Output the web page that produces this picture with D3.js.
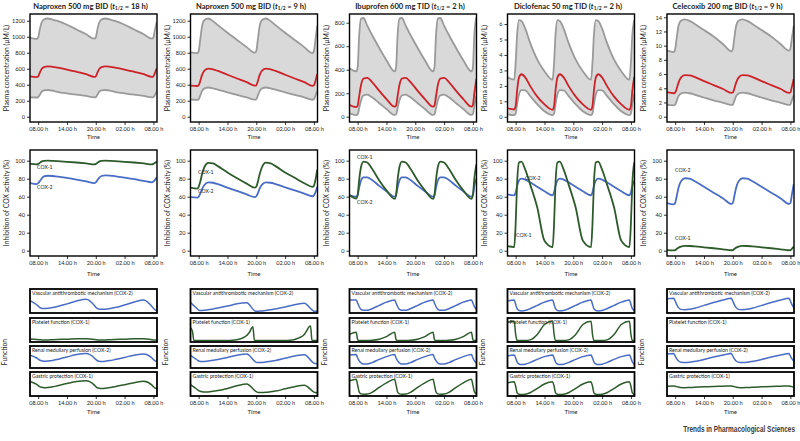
<!DOCTYPE html>
<html><head><meta charset="utf-8">
<script src="https://cdn.jsdelivr.net/npm/d3@7"></script>
<style>
body{margin:0;background:#fff}
svg{display:block}
text{font-family:Lato,"Open Sans",sans-serif;fill:#222}
</style>
</head><body>
<svg id="chart" width="800" height="441"></svg>
<script>
// ---------- shared ticks ----------
const timeTicks = [0, 6, 12, 18, 24];
const timeTickLabels = ["08.00 h", "14.00 h", "20.00 h", "02.00 h", "08.00 h"];
const inhibitionTicks = [0, 20, 40, 60, 80, 100];
const functionNames = ["Vascular antithrombotic mechanism (COX-2)", "Platelet function (COX-1)", "Renal medullary perfusion (COX-2)", "Gastric protection (COX-1)"];
const drugNames = ["Naproxen 500 mg BID", "Naproxen 500 mg BID", "Ibuprofen 600 mg TID", "Diclofenac 50 mg TID", "Celecoxib 200 mg BID"];
const halfLives = ["18 h", "9 h", "2 h", "2 h", "9 h"];

// ---------- time grids (hours after 08.00 h) ----------
const hoursBID = [-1.7,-0.3, 0,0.3,0.7,1.2,2,3,4,6,8,10,11.7, 12,12.3,12.7,13.2,14,15,16,18,20,22,23.7, 24,24.3,24.7];
const hoursTID = [-1.7,-0.3, 0,0.3,0.7,1.2,2,3,4.5,6,7.7, 8,8.3,8.7,9.2,10,11,12.5,14,15.7, 16,16.3,16.7,17.2,18,19,20.5,22,23.7, 24,24.3,24.7];
const nap9PlateletHours = [-1.7,-1.3,-1.0,0,2,4,6,7,8,9,10,10.6,11.0,11.3,11.6,12,14,16,18,19,20,21,22,22.6,23.0,23.3,23.6,24,24.7];

// ---------- Naproxen t1/2 = 18 h ----------
const nap18PlasmaTicks = [0,200,400,600,800,1000,1200];
const nap18High = [985,972, 990,1080,1175,1215,1228,1215,1198,1150,1090,1030,975, 990,1080,1175,1215,1228,1215,1198,1150,1090,1030,975, 990,1080,1185];
const nap18Mean = [505,495, 505,545,595,620,630,624,614,590,562,532,497, 505,545,595,620,630,624,614,590,562,532,497, 505,545,605];
const nap18Low = [242,240, 245,270,310,330,334,325,312,292,275,260,243, 245,270,310,330,334,325,312,292,275,260,243, 245,270,318];
const nap18Cox1 = [96.5,96, 96.5,97.5,99,99.7,100,99.8,99.5,98.8,98,97,96, 96.5,97.5,99,99.7,100,99.8,99.5,98.8,98,97,96, 96.5,97.5,99.2];
const nap18Cox2 = [75,74, 75,77,80,82.5,83.3,83,82.3,80.8,79,77,75, 76,78,81,83,83.7,83.5,82.8,81.3,79.5,77.5,76, 76.8,78.5,81.5];
const nap18Vascular = [0.52,0.33, 0.27,0.21,0.17,0.16,0.17,0.2,0.25,0.37,0.5,0.58,0.3, 0.22,0.16,0.13,0.12,0.13,0.16,0.2,0.32,0.45,0.55,0.25, 0.17,0.1,0.05];
const nap18Platelet = [0.09,0.07, 0.06,0.06,0.05,0.05,0.05,0.06,0.07,0.08,0.1,0.1,0.07, 0.06,0.05,0.05,0.05,0.05,0.06,0.07,0.08,0.1,0.1,0.06, 0.05,0.04,0.04];
const nap18Renal = [0.59,0.45, 0.4,0.35,0.31,0.29,0.3,0.33,0.38,0.5,0.62,0.67,0.45, 0.38,0.32,0.29,0.28,0.29,0.32,0.37,0.48,0.59,0.65,0.45, 0.38,0.32,0.27];
const nap18Gastric = [0.62,0.48, 0.43,0.38,0.35,0.33,0.34,0.37,0.42,0.52,0.61,0.65,0.45, 0.38,0.33,0.31,0.3,0.31,0.34,0.38,0.47,0.56,0.62,0.45, 0.38,0.32,0.28];

// ---------- Naproxen t1/2 = 9 h ----------
const nap9PlasmaTicks = [0,200,400,600,800,1000,1200];
const nap9High = [805,795, 820,950,1130,1210,1228,1195,1145,1050,960,870,800, 820,950,1130,1210,1228,1195,1145,1050,960,870,795, 820,950,1140];
const nap9Mean = [388,384, 392,440,520,575,600,592,572,525,478,432,388, 392,440,520,575,600,592,572,525,478,432,386, 392,440,535];
const nap9Low = [215,210, 218,260,320,355,365,355,340,305,272,243,213, 218,260,320,355,365,355,340,305,272,243,212, 218,260,325];
const nap9Cox1 = [70,69, 71,76,85,93,97.5,97,94,87,80.5,74.5,70, 71,76,85,93,97.8,97,94,87,81,75,71, 72,78,90];
const nap9Cox2 = [59.5,59, 60,63,68.5,73,76,75.5,74,70,66.5,62.5,59.5, 60.5,63.5,69,73.5,76,75.5,74,70.5,67,63.5,60.5, 61.5,64.5,71];
const nap9Vascular = [0.43,0.15, 0.09,0.07,0.07,0.08,0.1,0.14,0.18,0.27,0.37,0.42,0.05, 0.03,0.03,0.04,0.05,0.07,0.1,0.14,0.23,0.33,0.4,0.08, 0.04,0.03,0.03];
const nap9Platelet = [0.6,0.45,0.03,0.02,0.02,0.02,0.02,0.03,0.06,0.12,0.25,0.4,0.58,0.65,0.03,0.02,0.02,0.02,0.02,0.03,0.07,0.15,0.3,0.5,0.65,0.68,0.03,0.02,0.02];
const nap9Renal = [0.58,0.35, 0.3,0.28,0.27,0.28,0.3,0.34,0.38,0.48,0.59,0.65,0.28, 0.23,0.22,0.22,0.23,0.25,0.29,0.33,0.44,0.55,0.61,0.25, 0.19,0.17,0.16];
const nap9Gastric = [0.47,0.25, 0.2,0.17,0.15,0.14,0.14,0.17,0.2,0.3,0.42,0.5,0.2, 0.15,0.12,0.11,0.11,0.12,0.15,0.18,0.28,0.38,0.44,0.18, 0.13,0.11,0.1];

// ---------- Ibuprofen t1/2 = 2 h ----------
const ibuPlasmaTicks = [0,200,400,600,800];
const ibuHigh = [412,385, 420,680,835,840,775,695,585,480,385, 420,680,835,840,775,695,585,480,385, 420,680,835,840,775,695,585,480,385, 420,700,845];
const ibuMean = [100,82, 95,170,270,325,330,295,220,150,85, 95,170,270,325,330,295,220,150,85, 95,170,270,325,330,295,220,150,85, 100,200,320];
const ibuLow = [28,14, 20,70,140,180,188,165,115,65,15, 20,70,140,180,188,165,115,65,15, 20,70,140,180,188,165,115,65,15, 25,90,180];
const ibuCox1 = [62,58, 62,78,93,99,98,91,78,67,57.5, 62,78,93,99,98,91,78,67,57.5, 62,78,93,99,98,91,78,67,57.5, 62,80,96];
const ibuCox2 = [61.5,60, 62,70,78,81.5,81.5,78.5,72,66,60, 62,70,78,81.5,81.5,78.5,72,66,60, 62,70,78,81.5,81.5,78.5,72,66,60, 62,72,80];
const ibuVascular = [0.55,0.55, 0.4,0.25,0.12,0.08,0.08,0.15,0.3,0.45,0.55, 0.4,0.25,0.12,0.08,0.08,0.15,0.3,0.45,0.55, 0.4,0.25,0.12,0.08,0.08,0.15,0.3,0.45,0.55, 0.4,0.25,0.12];
const ibuPlatelet = [0.3,0.4, 0.06,0.02,0.02,0.02,0.02,0.03,0.08,0.2,0.4, 0.06,0.02,0.02,0.02,0.02,0.03,0.08,0.2,0.4, 0.06,0.02,0.02,0.02,0.02,0.03,0.08,0.2,0.4, 0.06,0.02,0.02];
const ibuRenal = [0.6,0.62, 0.45,0.32,0.2,0.15,0.15,0.22,0.38,0.52,0.62, 0.45,0.32,0.2,0.15,0.15,0.22,0.38,0.52,0.62, 0.45,0.32,0.2,0.15,0.15,0.22,0.38,0.52,0.62, 0.45,0.32,0.2];
const ibuGastric = [0.65,0.72, 0.45,0.15,0.05,0.03,0.04,0.12,0.35,0.55,0.72, 0.45,0.15,0.05,0.03,0.04,0.12,0.35,0.55,0.72, 0.45,0.15,0.05,0.03,0.04,0.12,0.35,0.55,0.72, 0.45,0.15,0.05];

// ---------- Diclofenac t1/2 = 2 h ----------
const dicPlasmaTicks = [0,1,2,3,4,5,6];
const dicHigh = [2.55,2.4, 3.5,5.3,6.25,6.2,5.7,4.8,3.7,2.95,2.4, 3.5,5.3,6.25,6.2,5.7,4.8,3.7,2.95,2.4, 3.5,5.3,6.25,6.2,5.7,4.8,3.7,2.95,2.4, 3.5,5.3,6.25];
const dicMean = [0.55,0.47, 0.7,1.7,2.55,2.75,2.55,2.0,1.3,0.8,0.45, 0.7,1.7,2.55,2.75,2.55,2.0,1.3,0.8,0.45, 0.7,1.7,2.55,2.75,2.55,2.0,1.3,0.8,0.45, 0.7,1.7,2.6];
const dicLow = [0.15,0.1, 0.2,0.8,1.45,1.72,1.7,1.35,0.8,0.35,0.1, 0.2,0.8,1.45,1.72,1.7,1.35,0.8,0.35,0.1, 0.2,0.8,1.45,1.72,1.7,1.35,0.8,0.35,0.1, 0.2,0.8,1.5];
const dicCox1 = [5,4, 30,75,98,99,90,74,48,11,4, 30,75,98,99,90,74,48,11,4, 30,75,98,99,90,74,48,11,4, 30,75,98];
const dicCox2 = [62.5,61.5, 65,72,78,80,79,76,71,66,61.5, 65,72,78,80,79,76,71,66,61.5, 65,72,78,80,79,76,71,66,61.5, 65,72,78];
const dicVascular = [0.5,0.55, 0.35,0.15,0.07,0.05,0.07,0.15,0.3,0.45,0.55, 0.35,0.15,0.07,0.05,0.07,0.15,0.3,0.45,0.55, 0.35,0.15,0.07,0.05,0.07,0.15,0.3,0.45,0.55, 0.35,0.15,0.07];
const dicPlatelet = [0.85,0.9, 0.3,0.02,0.02,0.02,0.02,0.05,0.3,0.75,0.9, 0.3,0.02,0.02,0.02,0.02,0.05,0.3,0.75,0.9, 0.3,0.02,0.02,0.02,0.02,0.05,0.3,0.75,0.9, 0.3,0.02,0.02];
const dicRenal = [0.56,0.6, 0.45,0.25,0.15,0.12,0.14,0.22,0.38,0.52,0.6, 0.45,0.25,0.15,0.12,0.14,0.22,0.38,0.52,0.6, 0.45,0.25,0.15,0.12,0.14,0.22,0.38,0.52,0.6, 0.45,0.25,0.15];
const dicGastric = [0.55,0.6, 0.4,0.1,0.03,0.02,0.03,0.1,0.3,0.5,0.6, 0.4,0.1,0.03,0.02,0.03,0.1,0.3,0.5,0.6, 0.4,0.1,0.03,0.02,0.03,0.1,0.3,0.5,0.6, 0.4,0.1,0.03];

// ---------- Celecoxib t1/2 = 9 h ----------
const celPlasmaTicks = [0,2,4,6,8,10,12,14];
const celHigh = [9.3,9.1, 9.5,11,12.8,13.5,13.7,13.5,13.1,12.2,11.3,10.2,9.2, 9.5,11,12.8,13.5,13.7,13.5,13.1,12.2,11.3,10.2,9.3, 9.6,11,12.8];
const celMean = [3.45,3.3, 3.4,3.9,4.8,5.5,5.85,5.82,5.6,5.0,4.45,3.9,3.35, 3.4,3.9,4.8,5.5,5.85,5.82,5.6,5.0,4.45,3.9,3.35, 3.4,4.2,5.3];
const celLow = [1.65,1.6, 1.7,2.2,2.9,3.25,3.38,3.3,3.12,2.7,2.3,1.95,1.65, 1.7,2.2,2.9,3.25,3.38,3.3,3.12,2.7,2.3,1.95,1.65, 1.7,2.3,3.0];
const celCox1 = [0.6,0.3, 0.6,1.8,3.4,4.6,5.3,5.2,4.8,3.8,2.7,1.5,0.5, 0.6,1.8,3.4,4.6,5.3,5.2,4.8,3.8,2.7,1.5,0.5, 0.6,2,4.5];
const celCox2 = [53,51.5, 53,60,70,77,80.5,80,77.5,71,64.5,58,52, 53,60,70,77,80.5,80,77.5,71,64.5,58,52, 53,62,74];
const celVascular = [0.6,0.62, 0.5,0.35,0.2,0.12,0.1,0.12,0.17,0.3,0.43,0.55,0.62, 0.5,0.35,0.2,0.12,0.1,0.12,0.17,0.3,0.43,0.55,0.62, 0.5,0.35,0.2];
const celPlatelet = [1.04,1.04, 1.04,1.04,1.04,1.04,1.04,1.04,1.04,1.04,1.04,1.04,1.04, 1.04,1.04,1.04,1.04,1.04,1.04,1.04,1.04,1.04,1.04,1.04, 1.04,1.04,1.04];
const celRenal = [0.65,0.67, 0.55,0.42,0.3,0.24,0.22,0.24,0.28,0.38,0.5,0.6,0.67, 0.55,0.42,0.3,0.24,0.22,0.24,0.28,0.38,0.5,0.6,0.67, 0.55,0.42,0.3];
const celGastric = [0.4,0.41, 0.4,0.38,0.36,0.34,0.33,0.34,0.35,0.37,0.39,0.4,0.41, 0.4,0.38,0.36,0.34,0.33,0.34,0.35,0.37,0.39,0.4,0.41, 0.4,0.38,0.36];

// ---------- build column table ----------
const columns = [
  {hours: hoursBID, ticks: nap18PlasmaTicks, yDom: [-66, 1284], high: nap18High, mean: nap18Mean, low: nap18Low, cox1: nap18Cox1, cox2: nap18Cox2,
   fn: [nap18Vascular, nap18Platelet, nap18Renal, nap18Gastric], fnHours: [hoursBID, hoursBID, hoursBID, hoursBID],
   lab1: [37, 169], lab2: [37, 189]},
  {hours: hoursBID, ticks: nap9PlasmaTicks, yDom: [-66, 1284], high: nap9High, mean: nap9Mean, low: nap9Low, cox1: nap9Cox1, cox2: nap9Cox2,
   fn: [nap9Vascular, nap9Platelet, nap9Renal, nap9Gastric], fnHours: [hoursBID, nap9PlateletHours, hoursBID, hoursBID],
   lab1: [198, 174], lab2: [198, 193]},
  {hours: hoursTID, ticks: ibuPlasmaTicks, yDom: [-45, 874], high: ibuHigh, mean: ibuMean, low: ibuLow, cox1: ibuCox1, cox2: ibuCox2,
   fn: [ibuVascular, ibuPlatelet, ibuRenal, ibuGastric], fnHours: [hoursTID, hoursTID, hoursTID, hoursTID],
   lab1: [357, 159], lab2: [357, 204]},
  {hours: hoursTID, ticks: dicPlasmaTicks, yDom: [-0.34, 6.65], high: dicHigh, mean: dicMean, low: dicLow, cox1: dicCox1, cox2: dicCox2,
   fn: [dicVascular, dicPlatelet, dicRenal, dicGastric], fnHours: [hoursTID, hoursTID, hoursTID, hoursTID],
   lab1: [516, 237], lab2: [525, 180]},
  {hours: hoursBID, ticks: celPlasmaTicks, yDom: [-0.75, 14.46], high: celHigh, mean: celMean, low: celLow, cox1: celCox1, cox2: celCox2,
   fn: [celVascular, celPlatelet, celRenal, celGastric], fnHours: [hoursBID, hoursBID, hoursBID, hoursBID],
   lab1: [675, 240], lab2: [675, 172]}
];

// ---------- layout ----------
const svg = d3.select("#chart");
const colLefts = [30, 190.5, 349.5, 507.5, 667];
const plotW = 127;
const xDomain = [-1.7, 24.75];
const row1 = [14, 122];
const row2 = [150, 256];
const panels = [[289, 313], [318, 342], [346, 368], [372, 396]];
const inhDomain = [-5.9, 111.9];

const GRAY_FILL = "#d9d9d9", GRAY_LINE = "#9a9a9a", RED = "#cc2229", GREEN = "#2e5b2c", BLUE = "#4a6cc4";

function styleAxis(g) {
  g.select(".domain").remove();
  g.selectAll(".tick line").attr("stroke", "#000").attr("stroke-width", 0.8);
  g.selectAll(".tick text").attr("font-size", 5.6).attr("fill", "#333").style("font-family", "Lato, 'Open Sans', sans-serif");
}
const plainNum = d3.format("d");

columns.forEach((c, i) => {
  const L = colLefts[i], R = L + plotW;
  const x = d3.scaleLinear().domain(xDomain).range([L, R]);

  // ---- title ----
  const title = svg.append("text").attr("x", (L + R) / 2 - 3).attr("y", 8.5)
    .attr("text-anchor", "middle").attr("font-size", 7.6).attr("font-weight", "bold");
  title.append("tspan").text(drugNames[i] + " (");
  title.append("tspan").attr("font-style", "italic").text("t");
  title.append("tspan").attr("font-size", 4.8).attr("dy", 1.6).text("1/2");
  title.append("tspan").attr("dy", -1.6).text(" = " + halfLives[i] + ")");

  // ---- row 1: plasma ----
  const y1 = d3.scaleLinear().domain(c.yDom).range([row1[1], row1[0]]);
  const clip1 = "clip1_" + i;
  svg.append("clipPath").attr("id", clip1).append("rect").attr("x", L).attr("y", row1[0]).attr("width", plotW).attr("height", row1[1] - row1[0]);
  const g1 = svg.append("g").attr("clip-path", `url(#${clip1})`);
  const band = c.hours.map((h, k) => ({h, lo: c.low[k], hi: c.high[k], m: c.mean[k]}));
  g1.append("path").datum(band).attr("fill", GRAY_FILL)
    .attr("d", d3.area().x(d => x(d.h)).y0(d => y1(d.lo)).y1(d => y1(d.hi)).curve(d3.curveMonotoneX));
  const ln1 = key => d3.line().x(d => x(d.h)).y(d => y1(d[key])).curve(d3.curveMonotoneX);
  g1.append("path").datum(band).attr("fill", "none").attr("stroke", GRAY_LINE).attr("stroke-width", 1.8).attr("d", ln1("hi"));
  g1.append("path").datum(band).attr("fill", "none").attr("stroke", GRAY_LINE).attr("stroke-width", 1.8).attr("d", ln1("lo"));
  g1.append("path").datum(band).attr("fill", "none").attr("stroke", RED).attr("stroke-width", 1.8).attr("d", ln1("m"));
  svg.append("rect").attr("x", L).attr("y", row1[0]).attr("width", plotW).attr("height", row1[1] - row1[0])
    .attr("fill", "none").attr("stroke", "#000").attr("stroke-width", 1.4);
  svg.append("g").attr("transform", `translate(${L},0)`).call(d3.axisLeft(y1).tickValues(c.ticks).tickFormat(plainNum).tickSize(3).tickPadding(2)).call(styleAxis);
  svg.append("g").attr("transform", `translate(0,${row1[1]})`)
    .call(d3.axisBottom(x).tickValues(timeTicks).tickFormat((d, k) => timeTickLabels[k]).tickSize(3).tickPadding(2)).call(styleAxis);
  svg.append("text").attr("x", (L + R) / 2).attr("y", 139).attr("text-anchor", "middle").attr("font-size", 6).text("Time");
  svg.append("text").attr("transform", `translate(${L - 21},${(row1[0] + row1[1]) / 2}) rotate(-90)`)
    .attr("text-anchor", "middle").attr("font-size", 6.8).text("Plasma concentration (μM/L)");

  // ---- row 2: COX inhibition ----
  const y2 = d3.scaleLinear().domain(inhDomain).range([row2[1], row2[0]]);
  const clip2 = "clip2_" + i;
  svg.append("clipPath").attr("id", clip2).append("rect").attr("x", L).attr("y", row2[0]).attr("width", plotW).attr("height", row2[1] - row2[0]);
  const g2 = svg.append("g").attr("clip-path", `url(#${clip2})`);
  const inh = c.hours.map((h, k) => ({h, c1: c.cox1[k], c2: c.cox2[k]}));
  const ln2 = key => d3.line().x(d => x(d.h)).y(d => y2(d[key])).curve(d3.curveMonotoneX);
  g2.append("path").datum(inh).attr("fill", "none").attr("stroke", BLUE).attr("stroke-width", 1.8).attr("d", ln2("c2"));
  g2.append("path").datum(inh).attr("fill", "none").attr("stroke", GREEN).attr("stroke-width", 1.8).attr("d", ln2("c1"));
  svg.append("rect").attr("x", L).attr("y", row2[0]).attr("width", plotW).attr("height", row2[1] - row2[0])
    .attr("fill", "none").attr("stroke", "#000").attr("stroke-width", 1.4);
  svg.append("g").attr("transform", `translate(${L},0)`).call(d3.axisLeft(y2).tickValues(inhibitionTicks).tickFormat(plainNum).tickSize(3).tickPadding(2)).call(styleAxis);
  svg.append("g").attr("transform", `translate(0,${row2[1]})`)
    .call(d3.axisBottom(x).tickValues(timeTicks).tickFormat((d, k) => timeTickLabels[k]).tickSize(3).tickPadding(2)).call(styleAxis);
  svg.append("text").attr("x", (L + R) / 2).attr("y", 276).attr("text-anchor", "middle").attr("font-size", 6).text("Time");
  svg.append("text").attr("transform", `translate(${L - 21},${(row2[0] + row2[1]) / 2}) rotate(-90)`)
    .attr("text-anchor", "middle").attr("font-size", 6.8).text("Inhibition of COX activity (%)");
  svg.append("text").attr("x", c.lab1[0]).attr("y", c.lab1[1]).attr("font-size", 5.2).text("COX-1");
  svg.append("text").attr("x", c.lab2[0]).attr("y", c.lab2[1]).attr("font-size", 5.2).text("COX-2");

  // ---- row 3: function panels ----
  panels.forEach((p, j) => {
    const yf = d3.scaleLinear().domain([0, 1]).range([p[1] - 1, p[0] + 1]);
    const clip3 = `clip3_${i}_${j}`;
    svg.append("clipPath").attr("id", clip3).append("rect").attr("x", L).attr("y", p[0]).attr("width", plotW).attr("height", p[1] - p[0]);
    const pts = c.fnHours[j].map((h, k) => ({h, v: c.fn[j][k]}));
    svg.append("g").attr("clip-path", `url(#${clip3})`).append("path").datum(pts)
      .attr("fill", "none").attr("stroke", (j % 2 === 0) ? BLUE : GREEN).attr("stroke-width", 1.5)
      .attr("d", d3.line().x(d => x(d.h)).y(d => yf(d.v)).curve(d3.curveMonotoneX));
    svg.append("rect").attr("x", L).attr("y", p[0]).attr("width", plotW).attr("height", p[1] - p[0])
      .attr("fill", "none").attr("stroke", "#000").attr("stroke-width", 1.8);
    svg.append("text").attr("x", L + 2).attr("y", p[0] + 6).attr("font-size", 5.2).text(functionNames[j]);
  });
  svg.append("g").attr("transform", `translate(0,${panels[3][1]})`)
    .call(d3.axisBottom(x).tickValues(timeTicks).tickFormat((d, k) => timeTickLabels[k]).tickSize(3).tickPadding(2)).call(styleAxis);
  svg.append("text").attr("x", (L + R) / 2).attr("y", 414).attr("text-anchor", "middle").attr("font-size", 6).text("Time");
  svg.append("text").attr("transform", `translate(${L - 23},352) rotate(-90)`)
    .attr("text-anchor", "middle").attr("font-size", 6.8).text("Function");
});

svg.append("text").attr("transform", "translate(795,432) scale(0.7,1)").attr("text-anchor", "end")
  .attr("font-size", 9.2).attr("font-weight", "bold").style("font-family", "'Liberation Sans', Arial, sans-serif")
  .style("fill", "#3a3a3a")
  .text("Trends in Pharmacological Sciences");
</script>
</body></html>
